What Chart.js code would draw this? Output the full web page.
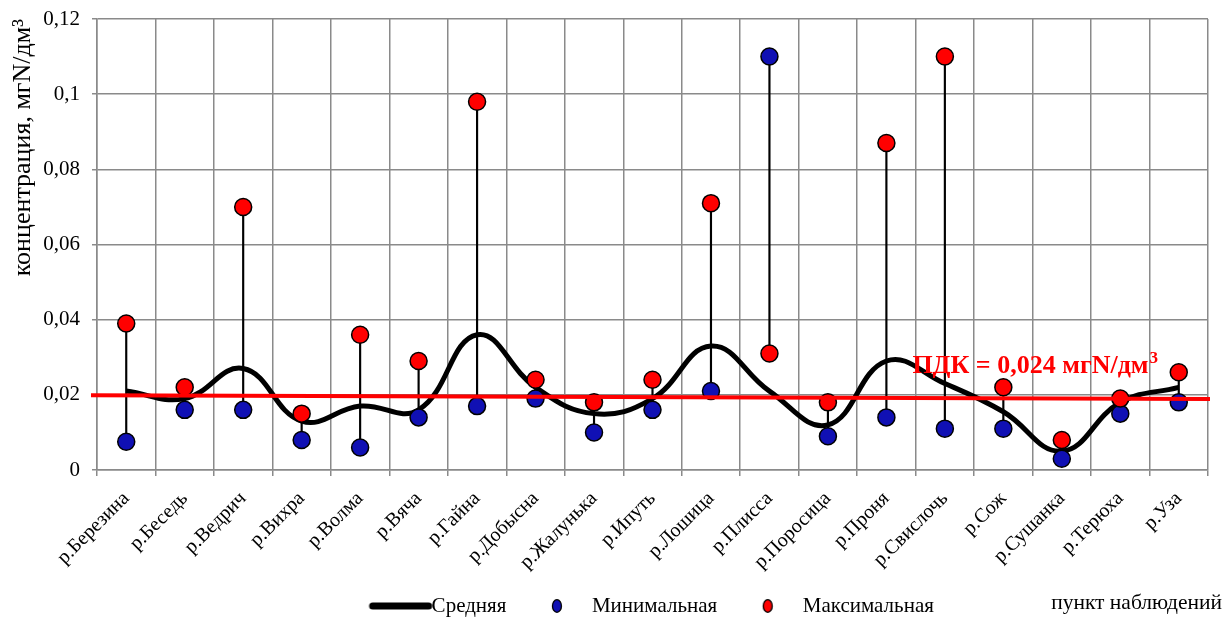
<!DOCTYPE html>
<html>
<head>
<meta charset="utf-8">
<script src="https://cdn.jsdelivr.net/npm/chart.js@4.4.0/dist/chart.umd.min.js"></script>
<style>
  html, body { margin: 0; padding: 0; background: #fff; }
  #wrap { width: 1224px; height: 619px; }
</style>
</head>
<body>
<div id="wrap"><canvas id="nitrateChart" width="1224" height="619"></canvas></div>
<script>
const rivers = ['р.Березина', 'р.Беседь', 'р.Ведрич', 'р.Вихра', 'р.Волма', 'р.Вяча', 'р.Гайна', 'р.Добысна', 'р.Жалунька', 'р.Ипуть',
  'р.Лошица', 'р.Плисса', 'р.Поросица', 'р.Проня', 'р.Свислочь', 'р.Сож', 'р.Сушанка', 'р.Терюха', 'р.Уза'];
const meanValues = [0.021, 0.019, 0.027, 0.013, 0.017, 0.016, 0.036, 0.022, 0.015, 0.019, 0.033, 0.021, 0.012, 0.029, 0.023, 0.0155, 0.005, 0.018, 0.022];
const minValues  = [0.0075, 0.016, 0.016, 0.008, 0.006, 0.014, 0.017, 0.019, 0.010, 0.016, 0.021, 0.110, 0.009, 0.014, 0.011, 0.011, 0.003, 0.015, 0.018];
const maxValues  = [0.039, 0.022, 0.070, 0.015, 0.036, 0.029, 0.098, 0.024, 0.018, 0.024, 0.071, 0.031, 0.018, 0.087, 0.110, 0.022, 0.008, 0.019, 0.026];
const yTicks = [0, 0.02, 0.04, 0.06, 0.08, 0.1, 0.12];
const pdkLine = [0.0199, 0.0189];   // red line as drawn: value at left edge, value at right edge
const pdkValue = 0.024;

const serif = "'Liberation Serif', 'Times New Roman', serif";

// legend symbols: canvas is centred on the legend box, so coordinates are box-relative + 11.5
function makeIcon(draw) {
  const c = document.createElement('canvas');
  c.width = 88; c.height = 16;
  draw(c.getContext('2d'));
  return c;
}
const lineIcon = makeIcon(g => {
  g.strokeStyle = '#000'; g.lineWidth = 7; g.lineCap = 'round';
  g.beginPath(); g.moveTo(28, 8); g.lineTo(84, 8); g.stroke();
});
const dotIcon = color => makeIcon(g => {
  g.fillStyle = color; g.strokeStyle = '#000'; g.lineWidth = 1.3;
  g.beginPath(); g.ellipse(52, 8, 4.5, 6.3, 0, 0, Math.PI * 2); g.fill(); g.stroke();
});
const legendIcons = { 1: lineIcon, 2: dotIcon('#1010b4'), 3: dotIcon('#ff0000') };

const pdkPlugin = {
  id: 'pdk',
  afterLayout(chart) {
    // legend sits right of centre and a little lower in the original
    const lg = chart.legend;
    lg.left += 41; lg.right += 41;
    lg.top += 7.5; lg.bottom += 7.5;
  },
  afterDatasetsDraw(chart) {
    const { ctx, chartArea, scales: { x, y } } = chart;
    ctx.save();
    ctx.strokeStyle = '#ff0000';
    ctx.lineWidth = 4;
    ctx.beginPath();
    ctx.moveTo(chartArea.left - 6, y.getPixelForValue(pdkLine[0]));
    ctx.lineTo(chartArea.right + 2, y.getPixelForValue(pdkLine[1]));
    ctx.stroke();

    ctx.fillStyle = '#ff0000';
    ctx.textBaseline = 'alphabetic';
    ctx.font = 'bold 26px ' + serif;
    const tx = x.getPixelForValue(13) + 26;
    const ty = y.getPixelForValue(pdkValue) - 7;
    const main = 'ПДК = 0,024 мгN/дм';
    ctx.fillText(main, tx, ty);
    const w = ctx.measureText(main).width;
    ctx.font = 'bold 17px ' + serif;
    ctx.fillText('3', tx + w + 1, ty - 10);

    ctx.fillStyle = '#000';
    ctx.font = '21.5px ' + serif;
    ctx.textAlign = 'right';
    ctx.fillText('пункт наблюдений', chart.width - 2, 609);
    ctx.restore();
  }
};

new Chart(document.getElementById('nitrateChart'), {
  type: 'bar',
  data: {
    labels: rivers,
    datasets: [
      {
        // high-low lines between min and max
        label: 'hl',
        data: rivers.map((r, i) => [minValues[i], maxValues[i]]),
        backgroundColor: '#000',
        barThickness: 1.5,
        order: 4
      },
      {
        type: 'line',
        label: 'Средняя',
        data: meanValues,
        borderColor: '#000',
        borderWidth: 5,
        tension: 0.42,
        pointRadius: 0,
        fill: false,
        order: 3
      },
      {
        type: 'line',
        label: 'Минимальная',
        data: minValues,
        showLine: false,
        pointRadius: 8.5,
        pointBackgroundColor: '#1010b4',
        pointBorderColor: '#000',
        pointBorderWidth: 1.5,
        order: 2
      },
      {
        type: 'line',
        label: 'Максимальная',
        data: maxValues,
        showLine: false,
        pointRadius: 8.5,
        pointBackgroundColor: '#ff0000',
        pointBorderColor: '#000',
        pointBorderWidth: 1.5,
        order: 1
      }
    ]
  },
  options: {
    responsive: false,
    animation: false,
    devicePixelRatio: 1,
    layout: { padding: { top: 19, right: 16, left: 0, bottom: 0 } },
    plugins: {
      tooltip: { enabled: false },
      legend: {
        position: 'bottom',
        labels: {
          usePointStyle: true,
          pointStyleWidth: 65,
          boxHeight: 16,
          padding: 10,
          color: '#000',
          font: { family: serif, size: 21 },
          generateLabels(chart) {
            const items = Chart.defaults.plugins.legend.labels.generateLabels(chart);
            return items
              .filter(it => legendIcons[it.datasetIndex])
              .sort((a, b) => a.datasetIndex - b.datasetIndex)
              .map(it => Object.assign(it, { pointStyle: legendIcons[it.datasetIndex] }));
          }
        }
      }
    },
    scales: {
      x: {
        grid: { color: '#8a8a8a', lineWidth: 1.5, tickLength: 6, offset: true },
        border: { color: '#8a8a8a', width: 1.5 },
        ticks: {
          color: '#000',
          font: { family: serif, size: 20 },
          minRotation: 45,
          maxRotation: 45,
          padding: 11,
          autoSkip: false
        },
        afterFit(s) { s.height = 108; }
      },
      y: {
        min: 0,
        max: 0.12,
        grid: { color: '#8a8a8a', lineWidth: 1.5, tickLength: 5 },
        border: { color: '#8a8a8a', width: 1.5 },
        afterBuildTicks(s) { s.ticks = yTicks.map(v => ({ value: v })); },
        ticks: {
          color: '#000',
          font: { family: serif, size: 21 },
          padding: 12,
          callback: v => String(+v.toFixed(3)).replace('.', ',')
        },
        title: {
          display: true,
          text: 'концентрация, мгN/дм³',
          align: 'end',
          color: '#000',
          font: { family: serif, size: 26 },
          padding: { top: 8, bottom: 4 }
        },
        afterFit(s) {
          s.width = 97;
          s.paddingTop = 0;
          s.paddingBottom = 0;
        }
      }
    }
  },
  plugins: [pdkPlugin]
});
</script>
</body>
</html>
